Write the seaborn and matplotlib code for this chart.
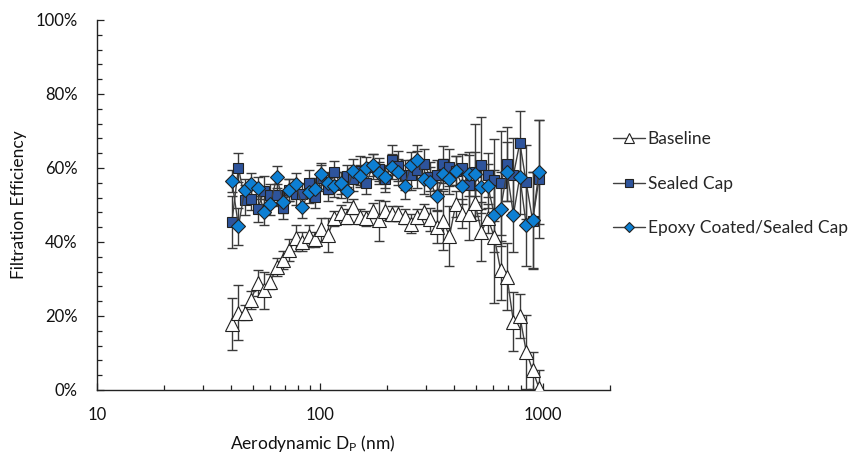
import matplotlib
matplotlib.use("Agg")
import matplotlib.pyplot as plt
import numpy as np
import pandas as pd
import seaborn as sns
from matplotlib.ticker import (PercentFormatter, MultipleLocator, FixedLocator,
                               FixedFormatter, NullFormatter)

# Aerodynamic diameter channels (nm)
diameter_nm = [40.3, 43.1, 46.0, 49.1, 52.5, 56.1, 59.9, 64.0, 68.4, 73.0,
               78.0, 83.4, 89.0, 95.1, 101.6, 108.6, 116.0, 123.9, 132.4, 141.4,
               151.1, 161.4, 172.4, 184.2, 196.8, 210.2, 224.6, 239.9, 256.3, 273.8,
               292.5, 312.5, 333.8, 356.6, 381.0, 407.0, 434.8, 464.5, 496.2, 530.1,
               566.3, 605.0, 646.3, 690.4, 737.6, 788.0, 841.8, 899.3, 960.7]

# Filtration efficiency (%) and error (+/- %)
baseline = [17.8, 20.9, 20.9, 24.3, 29.0, 27.0, 29.3, 33.3, 35.1, 37.8,
            41.0, 40.1, 41.6, 40.7, 43.4, 41.9, 46.4, 47.9, 46.8, 49.5,
            46.8, 46.4, 48.5, 45.9, 48.5, 47.6, 47.6, 46.8, 45.0, 46.8,
            48.2, 46.1, 44.1, 45.8, 41.6, 50.3, 47.7, 47.6, 50.5, 42.8,
            46.4, 41.4, 32.4, 30.6, 18.5, 20.0, 10.4, 5.4, 0.5]
baseline_err = [7.0, 7.5, 2.0, 2.5, 3.5, 5.0, 2.0, 2.5, 2.5, 3.0,
                3.5, 2.5, 3.0, 2.0, 3.0, 4.5, 2.0, 2.0, 2.0, 2.0,
                2.0, 2.0, 2.0, 5.5, 2.5, 2.0, 2.0, 2.0, 2.5, 2.0,
                2.0, 3.0, 4.5, 8.0, 8.0, 3.5, 4.0, 7.0, 3.5, 8.0,
                4.0, 18.0, 8.0, 9.0, 8.0, 6.0, 10.0, 5.0, 5.0]

sealed_cap = [45.5, 60.1, 51.4, 51.6, 48.8, 53.9, 52.7, 52.7, 49.1, 54.1,
              53.0, 53.0, 55.9, 52.2, 57.2, 54.2, 59.0, 55.4, 57.8, 56.9,
              59.3, 55.9, 60.4, 59.6, 57.0, 62.2, 60.5, 58.1, 58.1, 59.5,
              61.1, 57.7, 58.1, 61.0, 60.2, 59.3, 59.9, 55.4, 59.0, 60.8,
              58.1, 56.8, 55.9, 61.1, 58.1, 66.8, 56.1, 45.8, 57.0]
sealed_cap_err = [7.0, 4.0, 4.0, 3.0, 3.5, 4.0, 3.0, 3.0, 3.0, 3.0,
                  3.0, 3.0, 3.5, 3.0, 3.5, 3.0, 3.0, 3.5, 3.0, 3.0,
                  4.0, 3.0, 3.5, 3.0, 3.5, 4.0, 4.0, 4.0, 4.0, 5.0,
                  4.0, 4.0, 4.0, 5.0, 5.0, 4.0, 4.0, 8.0, 13.0, 13.0,
                  6.0, 11.0, 14.0, 10.0, 10.0, 8.5, 10.0, 13.0, 16.0]

epoxy_sealed = [56.5, 44.3, 54.1, 55.7, 54.7, 48.2, 50.3, 57.5, 50.9, 54.1,
                55.7, 49.4, 53.6, 54.2, 58.4, 55.9, 55.1, 56.0, 53.9, 59.3,
                57.8, 59.9, 60.8, 58.6, 57.7, 60.4, 58.8, 55.2, 60.8, 62.2,
                57.0, 56.3, 52.3, 58.4, 57.0, 59.3, 55.2, 58.4, 58.4, 54.8,
                55.2, 47.4, 48.9, 59.0, 47.4, 57.7, 44.6, 46.0, 59.0]
epoxy_sealed_err = [3.0, 5.0, 3.0, 3.0, 3.0, 3.5, 3.0, 3.0, 3.0, 3.0,
                    3.0, 3.0, 3.0, 3.0, 3.0, 3.0, 3.0, 3.0, 3.0, 3.0,
                    3.0, 3.0, 3.0, 3.0, 3.0, 3.5, 3.5, 3.5, 3.5, 4.0,
                    4.0, 4.0, 4.0, 4.0, 4.0, 4.0, 5.0, 6.0, 6.0, 6.0,
                    6.0, 10.0, 10.0, 8.0, 10.0, 10.0, 11.0, 13.0, 14.0]

series_names = ["Baseline", "Sealed Cap", "Epoxy Coated/Sealed Cap"]
x_ticks = [10, 100, 1000]
x_tick_labels = ["10", "100", "1000"]

sns.set_theme(style="ticks")
plt.rcParams["font.family"] = ["Lato", "DejaVu Sans"]
plt.rcParams["mathtext.fontset"] = "custom"
plt.rcParams["mathtext.rm"] = "Lato"
plt.rcParams["mathtext.it"] = "Lato:italic"

fig = plt.figure(figsize=(8.48, 4.57), dpi=100)
ax = fig.add_axes([97 / 848, 1 - 390 / 457, 513 / 848, 370 / 457])

df = pd.DataFrame({
    "Dp": diameter_nm * 3,
    "eff": baseline + sealed_cap + epoxy_sealed,
    "err": baseline_err + sealed_cap_err + epoxy_sealed_err,
    "series": np.repeat(series_names, len(diameter_nm)),
})

styles = {
    "Baseline": dict(marker="^", markerfacecolor="white", markersize=10),
    "Sealed Cap": dict(marker="s", markerfacecolor="#2E549C", markersize=7.5),
    "Epoxy Coated/Sealed Cap": dict(marker="D", markerfacecolor="#0D7FD3", markersize=7),
}

line_col = "#404040"
for name in series_names:
    sub = df[df["series"] == name]
    ax.errorbar(sub["Dp"], sub["eff"], yerr=sub["err"], fmt="none",
                ecolor="#3a3a3a", elinewidth=1.0, capsize=3.5, capthick=1.0,
                zorder=2)
    sns.lineplot(data=sub, x="Dp", y="eff", ax=ax, color=line_col,
                 linewidth=1.0, markeredgecolor="#222222", markeredgewidth=0.8,
                 errorbar=None, label=name, zorder=3, **styles[name])

ax.set_xscale("log")
ax.set_xlim(10, 2000)
ax.set_ylim(0, 100)

ax.xaxis.set_major_locator(FixedLocator(x_ticks))
ax.xaxis.set_major_formatter(FixedFormatter(x_tick_labels))
minor_x = [v * d for d in (10, 100) for v in range(2, 10)] + [2000]
ax.xaxis.set_minor_locator(FixedLocator(minor_x))
ax.xaxis.set_minor_formatter(NullFormatter())

ax.yaxis.set_major_locator(MultipleLocator(20))
ax.yaxis.set_minor_locator(MultipleLocator(4))
ax.yaxis.set_major_formatter(PercentFormatter(decimals=0))

ax.tick_params(axis="both", which="both", direction="in", color="#222222",
               width=0.9, labelsize=12, labelcolor="#111111")
ax.tick_params(axis="both", which="major", length=5)
ax.tick_params(axis="both", which="minor", length=3.5)
ax.tick_params(axis="x", which="major", pad=12)
ax.tick_params(axis="y", which="major", pad=14)

for side in ("top", "right"):
    ax.spines[side].set_visible(False)
for side in ("left", "bottom"):
    ax.spines[side].set_color("#222222")
    ax.spines[side].set_linewidth(1.0)

ax.set_xlabel(r"Aerodynamic D$_\mathregular{P}$ (nm)", fontsize=12.5, color="#111111")
ax.set_ylabel("Filtration Efficiency", fontsize=12.5, color="#111111")
ax.xaxis.set_label_coords((313 - 97) / 513, -0.115)
ax.yaxis.set_label_coords(-(97 - 27) / 513, 0.5)

h, l = ax.get_legend_handles_labels()
if ax.legend_:
    ax.legend_.remove()
fig.legend(h, l, loc="upper left", bbox_to_anchor=(613 / 848, 1 - 131 / 457),
           frameon=False, fontsize=12.5, handlelength=1.85, handletextpad=0.15,
           labelspacing=1.65, markerscale=0.75, borderaxespad=0, borderpad=0)

fig.savefig("out.png", dpi=100)
